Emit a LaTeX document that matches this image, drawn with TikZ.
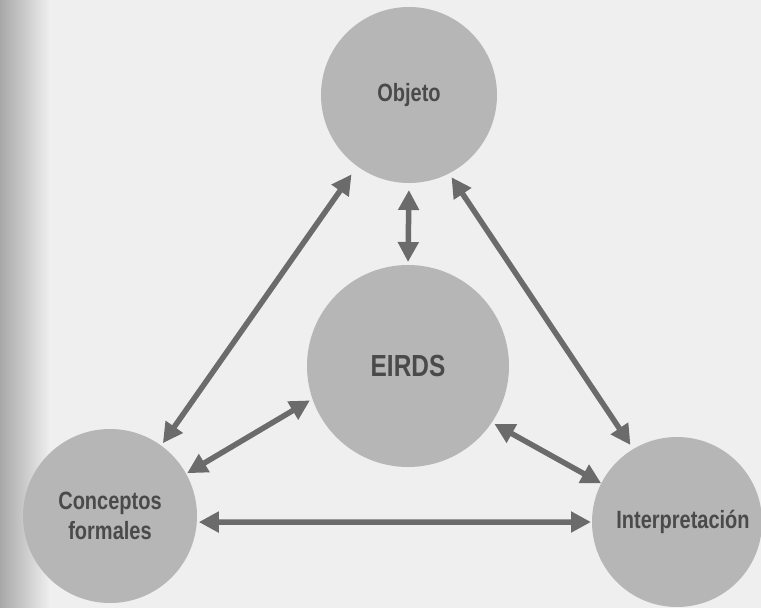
\documentclass[tikz,border=0pt]{standalone}
\usepackage{fontspec}
\setmainfont{Liberation Sans}
\newfontfamily\narrowsans[FakeStretch=0.8]{Liberation Sans}
\usetikzlibrary{arrows.meta}
\definecolor{paper}{HTML}{EFEFEF}
\definecolor{edge}{HTML}{A8A8A8}
\definecolor{disc}{HTML}{B6B6B6}
\definecolor{ink}{HTML}{4A4A4A}
\definecolor{arrowgray}{HTML}{6B6B6B}
\begin{document}
\begin{tikzpicture}[x=1pt,y=-1pt,
  bubble/.style={circle,fill=disc,inner sep=0pt,outer sep=0pt,
    text=ink,align=center,font=\narrowsans\bfseries\fontsize{25}{30}\selectfont},
  link/.style={draw=arrowgray,line width=5.5pt,
    {Triangle[length=20pt,width=20pt]}-{Triangle[length=20pt,width=20pt]}}]
  % page with a darker binding edge on the left
  \useasboundingbox (0,0) rectangle (761,608);
  \fill[paper] (0,0) rectangle (761,608);
  \shade[left color=edge,middle color=edge!50!paper,right color=paper] (0,0) rectangle (50,608);

  % the four concepts
  \node[bubble,minimum size=176pt] (obj) at (409,95) {Objeto};
  \node[bubble,minimum size=202pt,font=\narrowsans\bfseries\fontsize{30.5}{34}\selectfont]
       (eirds) at (408,366) {EIRDS};
  \node[bubble,minimum size=174pt] (con) at (110,516) {Conceptos\\formales};
  \node[bubble,minimum size=170pt] (int) at (677,522) {\hspace*{12pt}Interpretación};

  % two-way relations
  \draw[link,shorten <=7pt,shorten >=3pt] (obj.270) -- (eirds.90);
  \draw[link,shorten <=10pt,shorten >=3pt] (obj.234.5) -- (con.54.9);
  \draw[link,shorten <=4.6pt,shorten >=5pt] (obj.297.7) -- (int.121.4);
  \draw[link,shorten <=3pt,shorten >=1.2pt] (eirds.199.6) -- (con.29.2);
  \draw[link,shorten <=3pt,shorten >=0pt] (eirds.326.8) -- (int.153.7);
  \draw[link,shorten <=2pt,shorten >=1pt] (con.356.8) -- (int.180.7);
\end{tikzpicture}
\end{document}
